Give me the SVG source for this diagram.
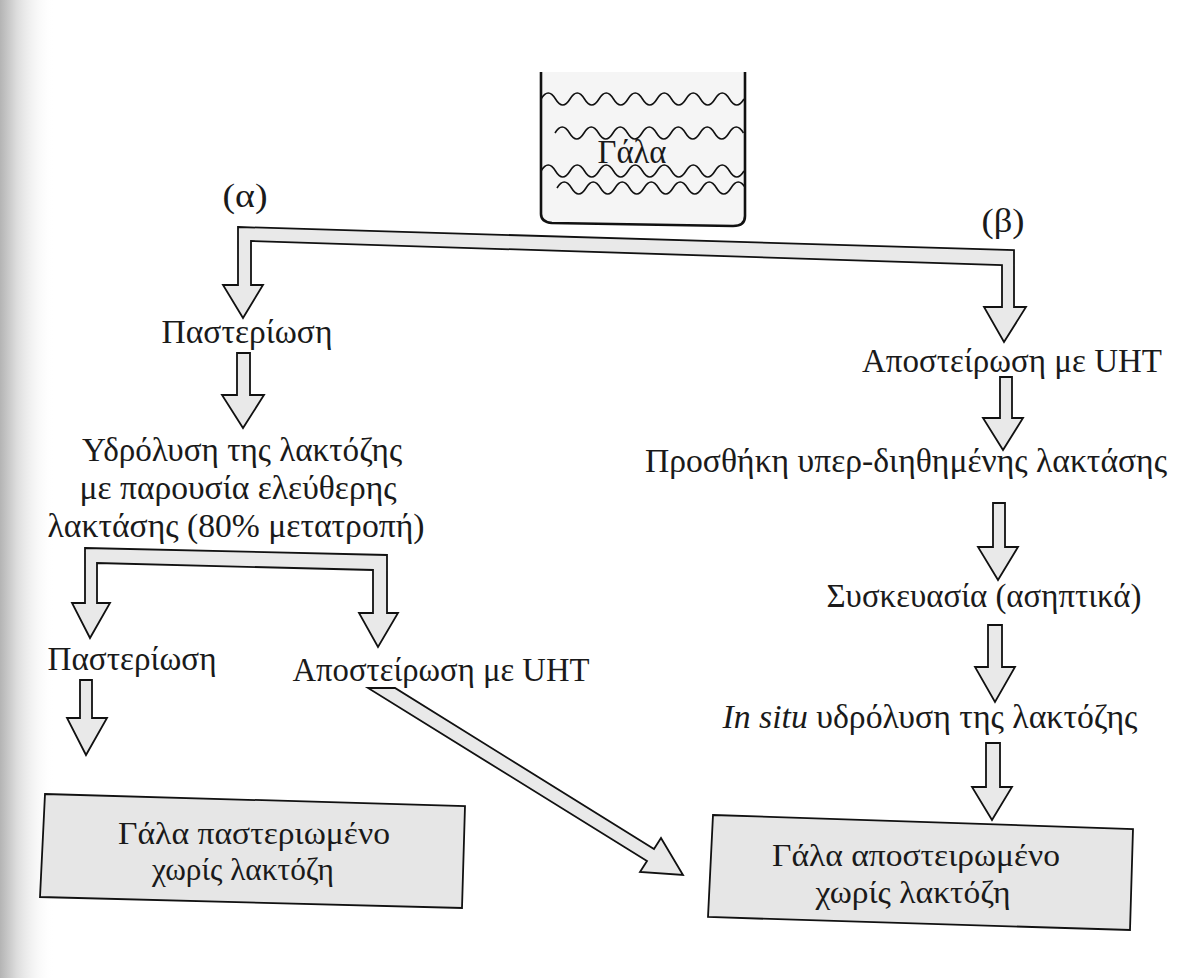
<svg xmlns="http://www.w3.org/2000/svg" width="1200" height="978" viewBox="0 0 1200 978">
<defs>
<linearGradient id="edge" x1="0" y1="0" x2="1" y2="0">
<stop offset="0" stop-color="#b4b4b4"/>
<stop offset="0.3" stop-color="#dcdcdc"/>
<stop offset="1" stop-color="#ffffff" stop-opacity="0"/>
</linearGradient>
<style>
.t{font-family:"Liberation Serif","DejaVu Serif",serif;font-size:33px;fill:#1a1a1a;text-anchor:middle}
.bt{font-size:31px}
.arr{fill:#e9e9e9;stroke:#111;stroke-width:1.8;stroke-linejoin:miter}
.box{fill:#e6e6e6;stroke:#111;stroke-width:1.8}
.wave{fill:none;stroke:#111;stroke-width:1.6}
</style>
</defs>
<rect x="0" y="0" width="1200" height="978" fill="#ffffff"/>
<rect x="0" y="0" width="55" height="978" fill="url(#edge)"/>

<g id="beaker">
<path d="M541 72 L541 214 Q541 222 552 223 L733 226 Q745 226 745 216 L745 72" fill="#f5f5f5" stroke="#111" stroke-width="2.6"/>
<path class="wave" d="M541 99 q7.25 -12 14.5 0 t14.5 0 t14.5 0 t14.5 0 t14.5 0 t14.5 0 t14.5 0 t14.5 0 t14.5 0 t14.5 0 t14.5 0 t14.5 0 t14.5 0 t14.5 0"/>
<path class="wave" d="M555 133 q7.25 -12 14.5 0 t14.5 0 t14.5 0 t14.5 0 t14.5 0 t14.5 0 t14.5 0 t14.5 0 t14.5 0 t14.5 0 t14.5 0 t14.5 0 t14.5 0"/>
<path class="wave" d="M541 171 q7.25 -12 14.5 0 t14.5 0 t14.5 0 t14.5 0 t14.5 0 t14.5 0 t14.5 0 t14.5 0 t14.5 0 t14.5 0 t14.5 0 t14.5 0 t14.5 0 t14.5 0"/>
<path class="wave" d="M557 188 q7.25 -12 14.5 0 t14.5 0 t14.5 0 t14.5 0 t14.5 0 t14.5 0 t14.5 0 t14.5 0 t14.5 0 t14.5 0 t14.5 0 t14.5 0 t14.5 0"/>
<text class="t" x="632" y="163" textLength="69" lengthAdjust="spacingAndGlyphs">Γάλα</text>
</g>

<g id="label-a"><text class="t" x="245" y="207" textLength="45" lengthAdjust="spacingAndGlyphs">(α)</text></g>
<g id="label-b"><text class="t" x="1003" y="232" textLength="43" lengthAdjust="spacingAndGlyphs">(β)</text></g>

<g id="a-pasteurisation"><text class="t" x="247" y="343" textLength="171" lengthAdjust="spacingAndGlyphs">Παστερίωση</text></g>
<g id="a-hydrolysis">
<text class="t" x="242" y="461" textLength="320" lengthAdjust="spacingAndGlyphs">Υδρόλυση της λακτόζης</text>
<text class="t" x="238" y="499" textLength="317" lengthAdjust="spacingAndGlyphs">με παρουσία ελεύθερης</text>
<text class="t" x="236" y="537" textLength="377" lengthAdjust="spacingAndGlyphs">λακτάσης (80% μετατροπή)</text>
</g>
<g id="a-pasteurisation2"><text class="t" x="132" y="670" textLength="169" lengthAdjust="spacingAndGlyphs">Παστερίωση</text></g>
<g id="a-uht"><text class="t" x="441" y="681" textLength="297" lengthAdjust="spacingAndGlyphs">Αποστείρωση με UHT</text></g>

<g id="b-uht"><text class="t" x="1012" y="372" textLength="300" lengthAdjust="spacingAndGlyphs">Αποστείρωση με UHT</text></g>
<g id="b-lactase"><text class="t" x="906" y="472" textLength="522" lengthAdjust="spacingAndGlyphs">Προσθήκη υπερ-διηθημένης λακτάσης</text></g>
<g id="b-packaging"><text class="t" x="984" y="607" textLength="315" lengthAdjust="spacingAndGlyphs">Συσκευασία (ασηπτικά)</text></g>
<g id="b-insitu"><text class="t" x="930" y="728" textLength="415" lengthAdjust="spacingAndGlyphs"><tspan font-style="italic">In situ</tspan> υδρόλυση της λακτόζης</text></g>

<g id="result-pasteurised">
<polygon class="box" points="45,794 465,806 462,908 40,897"/>
<text class="t bt" x="254" y="844" textLength="272" lengthAdjust="spacingAndGlyphs">Γάλα παστεριωμένο</text>
<text class="t bt" x="243" y="880" textLength="182" lengthAdjust="spacingAndGlyphs">χωρίς λακτόζη</text>
</g>
<g id="result-sterilised">
<polygon class="box" points="713,815 1133,829 1130,930 708,917"/>
<text class="t bt" x="916" y="866" textLength="288" lengthAdjust="spacingAndGlyphs">Γάλα αποστειρωμένο</text>
<text class="t bt" x="913" y="903" textLength="195" lengthAdjust="spacingAndGlyphs">χωρίς λακτόζη</text>
</g>

<g id="connectors">
<polygon class="arr" points="238,227 1014,250 1014,307 1026,307 1004,342 984,307 1002,307 1002,265 251,241 251,285 263,285 243,318 223,285 238,285"/>
<polygon class="arr" points="237,353 250,353 250,395 264,395 243,428 222,395 237,395"/>
<polygon class="arr" points="85,548 387,555 387,613 398,613 378,647 359,613 373,613 373,570 97,563 97,603 110,603 90,638 72,603 85,603"/>
<polygon class="arr" points="80,680 92,680 92,718 107,718 86,755 67,718 80,718"/>
<polygon class="arr" points="368,688 395,688 654,849 661,838 683,875 640,872 647,861"/>
<polygon class="arr" points="1000,377 1012,377 1012,418 1023,418 1003,450 983,418 1000,418"/>
<polygon class="arr" points="993,503 1005,503 1005,547 1018,547 998,580 978,547 993,547"/>
<polygon class="arr" points="988,625 1002,625 1002,667 1015,667 995,702 975,667 988,667"/>
<polygon class="arr" points="986,743 1000,743 1000,787 1012,787 992,820 972,787 986,787"/>
</g>
</svg>
